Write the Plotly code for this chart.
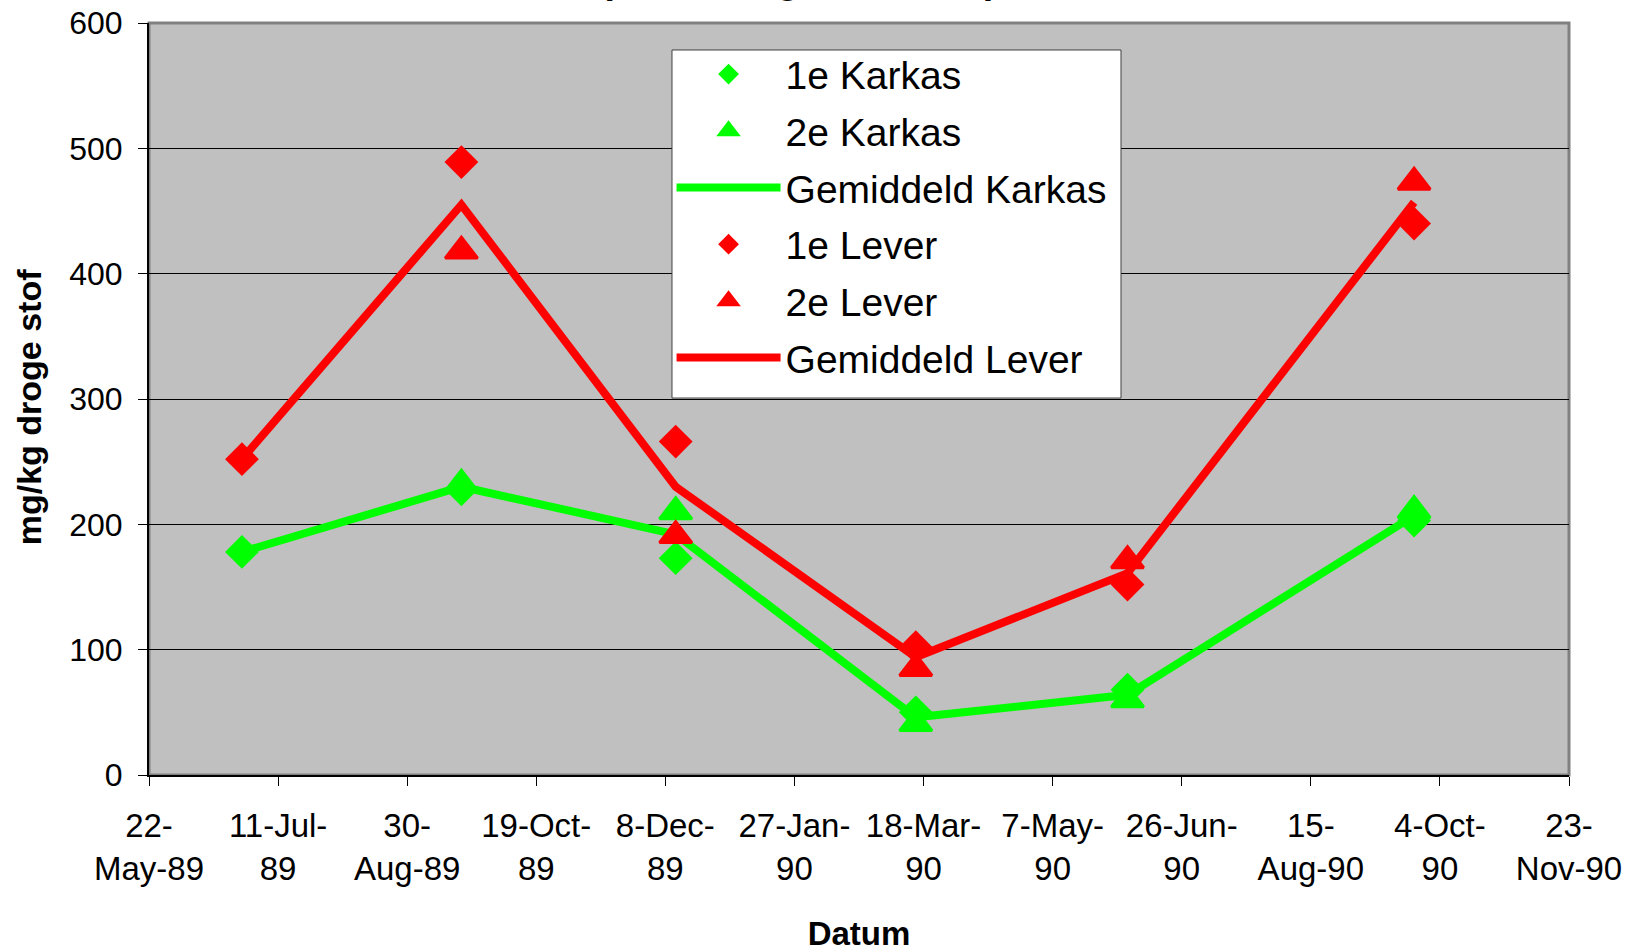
import plotly.graph_objects as go

# Sampling dates and measured concentrations (mg/kg droge stof)
datums = ["1989-06-27", "1989-09-20", "1989-12-12", "1990-03-15", "1990-06-05", "1990-09-24"]
karkas_1 = [178, 228, 173, 50, 68, 203]
karkas_2 = [None, 232, 210, 41, 60, 211]
karkas_gem = [178, 230, 192, 46, 64, 207]
lever_1 = [252, 489, 266, 102, 152, 440]
lever_2 = [None, 418, 191, 85, 171, 473]
lever_gem = [252, 455, 230, 94, 161, 457]

# Date axis ticks (every 50 days) and their wrapped labels
tick_dates = ["1989-05-22", "1989-07-11", "1989-08-30", "1989-10-19", "1989-12-08", "1990-01-27",
              "1990-03-18", "1990-05-07", "1990-06-26", "1990-08-15", "1990-10-04", "1990-11-23"]
tick_labels = ["22-<br>May-89", "11-Jul-<br>89", "30-<br>Aug-89", "19-Oct-<br>89", "8-Dec-<br>89",
               "27-Jan-<br>90", "18-Mar-<br>90", "7-May-<br>90", "26-Jun-<br>90", "15-<br>Aug-90",
               "4-Oct-<br>90", "23-<br>Nov-90"]
y_ticks = [0, 100, 200, 300, 400, 500, 600]

GREEN = "#00FF00"
RED = "#FF0000"
FONT = "Arial, Liberation Sans, sans-serif"

fig = go.Figure()

def markers(name, y, color, symbol, size, lw):
    fig.add_trace(go.Scatter(
        x=datums, y=y, name=name, legendgroup=name, mode="markers",
        marker=dict(symbol=symbol, size=size, color=color, line=dict(color=color, width=lw)),
    ))

def line(name, y, color):
    fig.add_trace(go.Scatter(
        x=datums, y=y, name=name, legendgroup=name, mode="lines", connectgaps=True,
        line=dict(color=color, width=8),
    ))

markers("1e Karkas", karkas_1, GREEN, "diamond", 26, 0)
markers("2e Karkas", karkas_2, GREEN, "triangle-up", 28, 3)
line("Gemiddeld Karkas", karkas_gem, GREEN)
markers("1e Lever", lever_1, RED, "diamond", 26, 0)
markers("2e Lever", lever_2, RED, "triangle-up", 28, 3)
line("Gemiddeld Lever", lever_gem, RED)

fig.update_layout(
    width=1636, height=952,
    margin=dict(l=149, r=67, t=23, b=177, autoexpand=False),
    paper_bgcolor="white",
    plot_bgcolor="#C0C0C0",
    font=dict(family=FONT, size=32, color="black"),
    showlegend=True,
    legend=dict(
        x=0.368, y=0.9745, xanchor="left", yanchor="top",
        bgcolor="rgba(0,0,0,0)", borderwidth=0,
        font=dict(family=FONT, size=39, color="black"),
        itemwidth=104, tracegroupgap=3,
    ),
    shapes=[
        # plot-area frame
        dict(type="rect", xref="paper", yref="paper", x0=0, y0=0, x1=1, y1=1,
             line=dict(color="#808080", width=3), layer="below"),
        # legend box
        dict(type="rect", xref="paper", yref="paper", x0=0.3683, y0=0.5013, x1=0.6845, y1=0.9641,
             fillcolor="white", line=dict(color="#404040", width=1), layer="above"),
    ],
    annotations=[
        dict(text="<b>(Waterberg NO, 89-90)</b>", xref="paper", yref="paper",
             x=0.458, y=1.0, xanchor="center", yanchor="bottom", yshift=20,
             showarrow=False, font=dict(family=FONT, size=38, color="black")),
        dict(text="<b>mg/kg droge stof</b>", xref="paper", yref="paper",
             x=-0.0845, y=0.489, xanchor="center", yanchor="middle", textangle=-90,
             showarrow=False, font=dict(family=FONT, size=34, color="black")),
    ],
)

fig.update_xaxes(
    type="date", automargin=False,
    range=["1989-05-22", "1990-11-23"],
    tickmode="array", tickvals=tick_dates, ticktext=tick_labels,
    ticks="outside", ticklen=9, tickcolor="black", tickwidth=1,
    showline=True, linecolor="black", linewidth=2,
    showgrid=False, zeroline=False,
    tickfont=dict(family=FONT, size=33),
    ticklabelstandoff=11,
    title=dict(text="<b>Datum</b>", font=dict(family=FONT, size=33), standoff=40),
)
fig.update_yaxes(
    range=[0, 600], automargin=False,
    tickmode="array", tickvals=y_ticks,
    ticks="outside", ticklen=9, tickcolor="black", tickwidth=1,
    showline=True, linecolor="black", linewidth=2,
    showgrid=True, gridcolor="black", gridwidth=1, zeroline=False,
    tickfont=dict(family=FONT, size=32),
    ticklabelstandoff=9,
)

fig.write_html("out.html")
